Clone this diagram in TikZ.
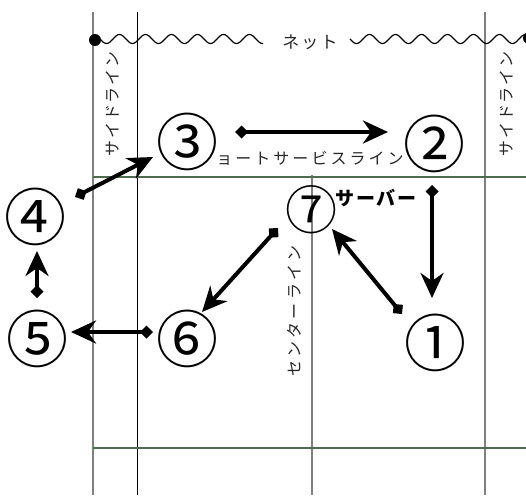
\documentclass[tikz,border=0pt]{standalone}
\usepackage{fontspec}
\setmainfont{Noto Sans CJK JP}
\usetikzlibrary{arrows.meta}
\definecolor{courtline}{HTML}{4F6A4F}
\begin{document}
\begin{tikzpicture}[x=1pt,y=-1pt,
  num/.style={font=\fontsize{62}{62}\selectfont, inner sep=0pt},
  lbl/.style={text=black!85, inner sep=0pt},
  mv/.style={line width=4pt, {Diamond[length=13pt,width=13pt]}-{Stealth[length=25pt,width=23pt,inset=8pt]}},
  gline/.style={draw=black!50, line width=2pt},
  bline/.style={draw=black, line width=1pt},
  hline/.style={draw=courtline, line width=1.5pt}]
\useasboundingbox (0,0) rectangle (526,495);
% court lines
\draw[gline] (93,12) -- (93,495);
\draw[bline] (137,12) -- (137,495);
\draw[gline] (485,12) -- (485,495);
\draw[gline] (312,175) -- (312,495);
\draw[hline] (93,177) -- (526,177);
\draw[hline] (93,448) -- (526,448);
% net
\fill (95,40) circle (6);
\fill (529,38) circle (6);
\draw[line width=1.2pt] plot[domain=100:263,samples=160,smooth] (\x,{39+4.5*sin((\x-100)*13.846)});
\draw[line width=1.2pt] plot[domain=350:526,samples=160,smooth] (\x,{39+4.5*sin((\x-350)*13.846)});
% labels
\node[lbl, font=\fontsize{17}{17}\selectfont\addfontfeature{LetterSpace=12}] (net) at (310,42) {ネット};
\node[lbl, rotate=90, font=\fontsize{16}{16}\selectfont\addfontfeature{LetterSpace=12}] (sideL) at (113,104) {サイドライン};
\node[lbl, rotate=90, font=\fontsize{16}{16}\selectfont\addfontfeature{LetterSpace=12}] (sideR) at (507,104) {サイドライン};
\node[lbl, font=\fontsize{16}{16}\selectfont\addfontfeature{LetterSpace=19}] (short) at (310,158) {ョートサービスライン};
\node[lbl, rotate=90, font=\fontsize{16}{16}\selectfont\addfontfeature{LetterSpace=19}] (center) at (294,311) {センターライン};
% positions
\node[num] (n3) at (187,142) {③};
\node[num] (n2) at (434,144) {②};
\node[num, font=\fontsize{52}{52}\selectfont] (n7) at (311,210) {⑦};
\node[inner sep=0pt, font=\fontsize{19}{19}\selectfont\bfseries\addfontfeature{LetterSpace=10}] (server) at (376,198) {サーバー};
\node[num] (n4) at (36,217) {④};
\node[num] (n5) at (37,339) {⑤};
\node[num] (n6) at (187,339) {⑥};
\node[num] (n1) at (435,343) {①};
% arrow ends
\coordinate (a32s) at (235,132); \coordinate (a32e) at (388,132);
\coordinate (a43s) at (75,197);  \coordinate (a43e) at (153,157);
\coordinate (a21s) at (432,185); \coordinate (a21e) at (432,298);
\coordinate (a17s) at (402,314); \coordinate (a17e) at (332,229);
\coordinate (a76s) at (278,228); \coordinate (a76e) at (202,312);
\coordinate (a65s) at (153,332); \coordinate (a65e) at (71,332);
\coordinate (a54s) at (37,298);  \coordinate (a54e) at (37,251);
\draw[mv] (a32s) -- (a32e);
\draw[mv] (a43s) -- (a43e);
\draw[mv] (a21s) -- (a21e);
\draw[mv] (a17s) -- (a17e);
\draw[mv] (a76s) -- (a76e);
\draw[mv] (a65s) -- (a65e);
\draw[mv] (a54s) -- (a54e);
\end{tikzpicture}
\end{document}
